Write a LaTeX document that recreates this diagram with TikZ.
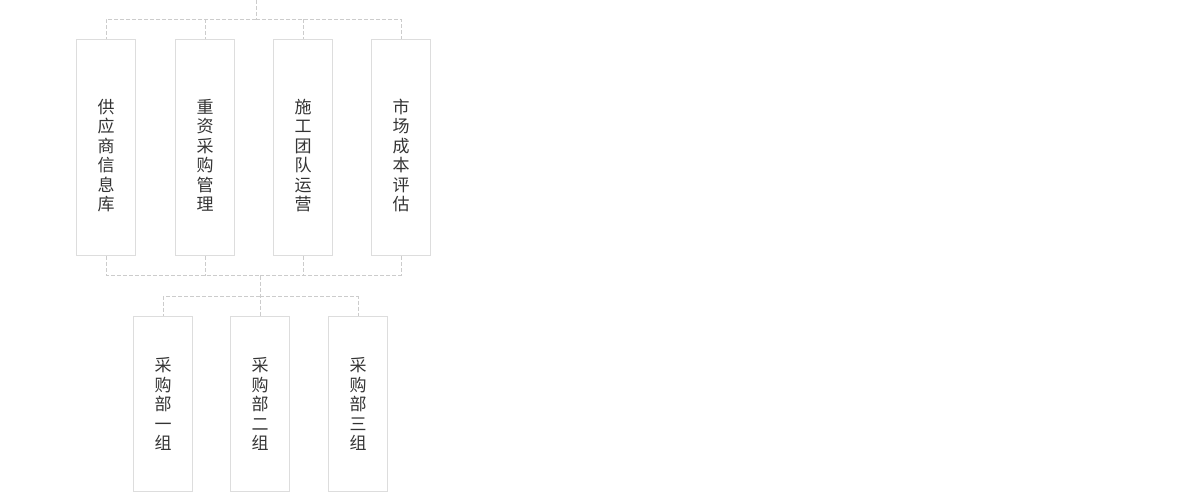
\documentclass[tikz,border=0pt]{standalone}
\usepackage{fontspec}
\newfontfamily\cjk{Noto Sans CJK SC}
\definecolor{boxgray}{HTML}{DDDDDD}
\definecolor{linegray}{HTML}{CCCCCC}
\definecolor{textgray}{HTML}{333333}

\begin{document}
\begin{tikzpicture}[x=1pt,y=-1pt,
		box/.style={draw=boxgray,line width=1.5pt,minimum width=59pt,inner sep=0pt,
			align=center,text=textgray,font=\cjk\fontsize{17pt}{19.5pt}\selectfont},
		dept/.style={box,minimum height=216pt,text height=128pt,text depth=2pt},
		group/.style={box,minimum height=175pt},
		link/.style={draw=linegray,line width=1pt,dash pattern=on 4pt off 2pt}]
		\useasboundingbox (0,0) rectangle (1200,495);
		\coordinate (root) at (256,0);
		\coordinate (bus1) at (256,19.5);
		\coordinate (bus2) at (260,275.5);
		\coordinate (bus3) at (260,296.5);
		\node[dept] (s1) at (106,147.5) {供\\应\\商\\信\\息\\库};
		\node[dept] (s2) at (205,147.5) {重\\资\\采\\购\\管\\理};
		\node[dept] (s3) at (303,147.5) {施\\工\\团\\队\\运\\营};
		\node[dept] (s4) at (401,147.5) {市\\场\\成\\本\\评\\估};
		\node[group] (g1) at (163,404) {采\\购\\部\\一\\组};
		\node[group] (g2) at (260,404) {采\\购\\部\\二\\组};
		\node[group] (g3) at (358,404) {采\\购\\部\\三\\组};
		\draw[link] (root) -- (bus1);
		\draw[link] (bus1) -| (s1.north);
		\draw[link] (bus1) -| (s4.north);
		\draw[link] (s2.north |- bus1) -- (s2.north);
		\draw[link] (s3.north |- bus1) -- (s3.north);
		\draw[link] (s1.south) |- (bus2);
		\draw[link] (s4.south) |- (bus2);
		\draw[link] (s2.south) -- (s2.south |- bus2);
		\draw[link] (s3.south) -- (s3.south |- bus2);
		\draw[link] (bus2) -- (g2.north);
		\draw[link] (bus3) -| (g1.north);
		\draw[link] (bus3) -| (g3.north);
\end{tikzpicture}
\end{document}
